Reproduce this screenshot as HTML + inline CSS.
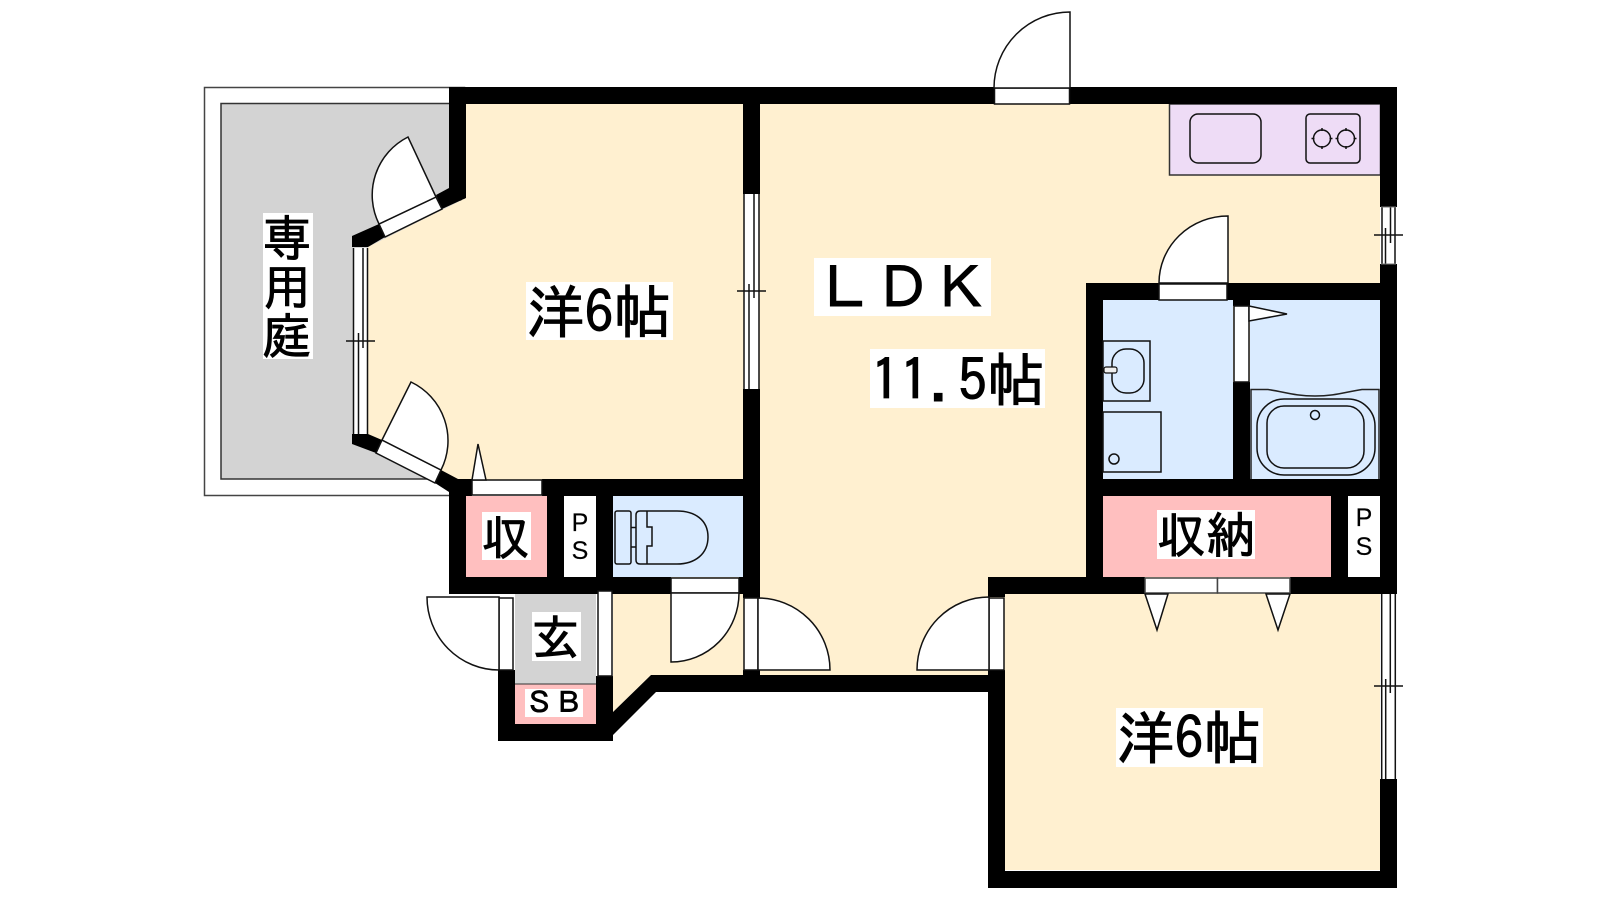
<!DOCTYPE html>
<html><head><meta charset="utf-8"><style>
html,body{margin:0;padding:0;background:#fff}
svg{display:block}
text{font-family:"IPAGothic","Noto Sans CJK JP",sans-serif;fill:#000;stroke:#000;stroke-width:.9}
.l{font-family:"Liberation Sans",sans-serif;stroke-width:.2}
.d{fill:#fff;stroke:#111;stroke-width:1.5}
.f{fill:none;stroke:#111;stroke-width:1.5}
.g{stroke:#333;stroke-width:1.5}
</style></head><body>
<svg width="1600" height="900" viewBox="0 0 1600 900" xmlns="http://www.w3.org/2000/svg">
<rect width="1600" height="900" fill="#fff"/>
<!-- garden -->
<rect x="204.500" y="87.500" width="260" height="408" fill="#fff" stroke="#444" stroke-width="1.500"/>
<rect x="221" y="103.500" width="240" height="375.500" fill="#d3d3d3" stroke="#333" stroke-width="1.500"/>
<!-- floor -->
<polygon points="466,104 1380,104 1380,870 1005,870 1005,675 651,675 613,712 613,490 458,490 368,440 368,247 466,198" fill="#fff0d0"/>
<!-- kitchen -->
<rect x="1169.500" y="104" width="211" height="71" fill="#eedcf6" stroke="#333" stroke-width="1.500"/>
<rect x="1190" y="114" width="71" height="49" rx="8" fill="none" stroke="#111" stroke-width="1.500"/>
<rect x="1306" y="114" width="54" height="49" rx="4" fill="none" stroke="#111" stroke-width="1.500"/>
<circle cx="1322" cy="138.500" r="8.500" class="f"/><circle cx="1346" cy="138.500" r="8.500" class="f"/>
<path d="M1322 128v3M1322 146v3M1311.500 138.500h3M1329.500 138.500h3M1346 128v3M1346 146v3M1335.500 138.500h3M1353.500 138.500h3" class="f"/>
<!-- wet rooms -->
<rect x="1103" y="300" width="130" height="179" fill="#daebff"/>
<rect x="1250" y="300" width="130" height="179" fill="#daebff"/>
<rect x="613" y="496" width="130" height="81" fill="#daebff"/>
<!-- storage -->
<rect x="1103" y="496" width="228" height="81" fill="#ffbfbf"/>
<rect x="466" y="496" width="81" height="81" fill="#ffbfbf"/>
<rect x="515" y="684" width="81" height="40" fill="#ffbfbf"/>
<rect x="515" y="594" width="81" height="90" fill="#d3d3d3"/>
<line x1="515" y1="684" x2="596" y2="684" stroke="#333" stroke-width="1"/>
<!-- walls -->
<g fill="#000">
<rect x="449" y="87" width="545" height="17"/>
<rect x="1069" y="87" width="328" height="17"/>
<polygon points="436,195 449,188 449,100 466,100 466,198 442,209"/>
<polygon points="352,236 379,224 385,237 368,247 352,247"/>
<polygon points="352,434 368,434 382,440 376,453 352,444"/>
<polygon points="441,470 458,479 472,479 472,496 466,496 466,594 449,594 449,492 435,483"/>
<rect x="743" y="87" width="17" height="107"/>
<rect x="743" y="389" width="17" height="209"/>
<rect x="743" y="670" width="17" height="22"/>
<rect x="542" y="479" width="218" height="17"/>
<rect x="547" y="479" width="17" height="115"/>
<rect x="596" y="479" width="17" height="115"/>
<rect x="449" y="577" width="222" height="17"/>
<rect x="739" y="577" width="21" height="17"/>
<rect x="498" y="670" width="17" height="71"/>
<rect x="596" y="676" width="17" height="65"/>
<rect x="498" y="724" width="115" height="17"/>
<polygon points="651,675 760,675 988,675 988,692 656,692 613,735 613,712"/>
<rect x="1380" y="87" width="17" height="120"/>
<rect x="1380" y="264" width="17" height="330"/>
<rect x="1380" y="779" width="17" height="109"/>
<rect x="988" y="871" width="409" height="17"/>
<rect x="988" y="670" width="17" height="218"/>
<rect x="988" y="577" width="17" height="20"/>
<rect x="988" y="577" width="157" height="17"/>
<rect x="1290" y="577" width="107" height="17"/>
<rect x="1086" y="283" width="17" height="300"/>
<rect x="1086" y="283" width="73" height="17"/>
<rect x="1227" y="283" width="170" height="17"/>
<rect x="1086" y="479" width="311" height="17"/>
<rect x="1233" y="283" width="17" height="23"/>
<rect x="1233" y="382" width="17" height="100"/>
<rect x="1331" y="479" width="17" height="110"/>
</g>
<!-- PS -->
<rect x="564" y="496" width="32" height="81" fill="#fff"/>
<rect x="1348" y="496" width="32" height="81" fill="#fff"/>
<!-- doors -->
<rect x="994.500" y="88" width="75" height="16" class="d"/>
<path d="M994 88A76 76 0 0 1 1070 12V88Z" class="d"/>
<rect x="1159" y="284" width="68" height="16" class="d"/>
<path d="M1159 283A69 67 0 0 1 1228 216V283Z" class="d"/>
<rect x="1234" y="306" width="15" height="76" class="d"/>
<polygon points="1249,306 1287,314 1249,321" class="d"/>
<polygon points="379,224 436,197 442,209 385,237" class="d"/>
<path d="M436 197L408 137A65 65 0 0 0 379 224Z" class="d"/>
<polygon points="382,440 441,470 435,483 376,453" class="d"/>
<path d="M382 440L411 382A65 65 0 0 1 441 470Z" class="d"/>
<rect x="472" y="480" width="70" height="15" class="d"/>
<polygon points="472,480 478,444 486,480" class="d"/>
<rect x="499" y="598" width="14" height="72" class="d"/>
<path d="M499 597H427A72 73 0 0 0 499 670Z" class="d"/>
<rect x="598" y="591" width="14" height="85" class="d"/>
<rect x="671" y="578" width="68" height="15" class="d"/>
<path d="M671 593H739A68 69 0 0 1 671 662Z" class="d"/>
<rect x="744" y="598" width="14" height="72" class="d"/>
<path d="M758 598A72 72 0 0 1 830 670H758Z" class="d"/>
<rect x="989" y="598" width="15" height="72" class="d"/>
<path d="M989 597A72 73 0 0 0 917 670H989Z" class="d"/>
<rect x="1145" y="578" width="72.500" height="15" fill="#fff" stroke="#444" stroke-width="1.500"/>
<rect x="1217.500" y="578" width="72.500" height="15" fill="#fff" stroke="#444" stroke-width="1.500"/>
<polygon points="1145,594 1168,594 1157,630" class="d"/>
<polygon points="1266,594 1290,594 1278,630" class="d"/>
<!-- windows -->
<rect x="353.500" y="248" width="14" height="186" fill="#fff"/>
<path d="M353.500 248V434M367.500 248V434M358.500 333V434M363 248V348M346 341H375" class="f"/>
<rect x="744" y="194" width="15" height="195" fill="#fff"/>
<path d="M744 194V389M759 194V389M749 284V389M754 194V298M737 291H766" class="f"/>
<rect x="1381.500" y="207" width="14" height="57" fill="#fff"/>
<path d="M1382 207V264M1395 207V264M1385.500 228V264M1390.500 207V243M1374 235H1403" class="f"/>
<path d="M1381 207H1396M1381 264H1396" stroke="#777" stroke-width="1"/>
<rect x="1381.500" y="594" width="14" height="185" fill="#fff"/>
<path d="M1381.700 594V779M1395.300 594V779M1385.700 679V779M1390.300 594V693M1374 686H1403" class="f"/>
<!-- washroom -->
<rect x="1103" y="341" width="47" height="60" class="f"/>
<rect x="1112" y="349" width="32" height="44" rx="14" class="f"/>
<rect x="1104" y="367" width="13" height="6" rx="2" fill="#eee" stroke="#111" stroke-width="1.200"/>
<rect x="1103" y="412" width="58" height="60" class="f"/>
<circle cx="1114" cy="459" r="5" class="f"/>
<!-- bath -->
<path d="M1251 479V389.500H1268C1285 392 1295 396 1315 396C1335 396 1345 392 1362 389.500H1379V479" fill="none" stroke="#222" stroke-width="1.500"/>
<rect x="1257" y="399" width="118" height="76" rx="27" class="f"/>
<rect x="1267" y="406" width="97" height="62" rx="17" class="f"/>
<circle cx="1315" cy="415" r="4.500" class="f"/>
<!-- toilet -->
<rect x="615" y="511" width="16" height="53" rx="2" class="f"/>
<path d="M631 527.500H636M631 547H636" class="f"/>
<path d="M640 511H677C695 511 708 520 708 537C708 554 695 564 677 564H640Q636 564 636 560V515Q636 511 640 511Z" class="f"/>
<path d="M647 511V527H652V546H647V564" class="f"/>
<!-- labels -->
<rect x="263" y="213" width="50" height="146" fill="#fff"/>
<text x="287" y="256" font-size="49" text-anchor="middle">専</text>
<text x="287" y="305" font-size="49" text-anchor="middle">用</text>
<text x="287" y="354" font-size="49" text-anchor="middle">庭</text>
<rect x="526" y="282" width="147" height="58" fill="#fff"/>
<text x="526.500" y="333" font-size="58">洋6帖</text>
<rect x="814" y="258" width="177" height="58" fill="#fff"/>
<text x="816" y="309" font-size="58">ＬＤＫ</text>
<rect x="870" y="349" width="175" height="59" fill="#fff"/>
<text x="871" y="401" font-size="58">11.5帖</text>
<rect x="1116" y="708" width="147" height="59" fill="#fff"/>
<text x="1116.500" y="759" font-size="58">洋6帖</text>
<rect x="482" y="512" width="49" height="48" fill="#fff"/>
<text x="481.500" y="555" font-size="48">収</text>
<rect x="532" y="612" width="49" height="49" fill="#fff"/>
<text x="531.500" y="655" font-size="48">玄</text>
<rect x="1157" y="510" width="98" height="49" fill="#fff"/>
<text x="1157" y="553" font-size="49">収納</text>
<rect x="525" y="689" width="58" height="28" fill="#fff"/>
<text x="525" y="713" font-size="29">ＳＢ</text>
<text class="l" x="580" y="531" font-size="25" text-anchor="middle">P</text>
<text class="l" x="580" y="559" font-size="25" text-anchor="middle">S</text>
<text class="l" x="1364" y="526" font-size="25" text-anchor="middle">P</text>
<text class="l" x="1364" y="555" font-size="25" text-anchor="middle">S</text>
</svg>
</body></html>
